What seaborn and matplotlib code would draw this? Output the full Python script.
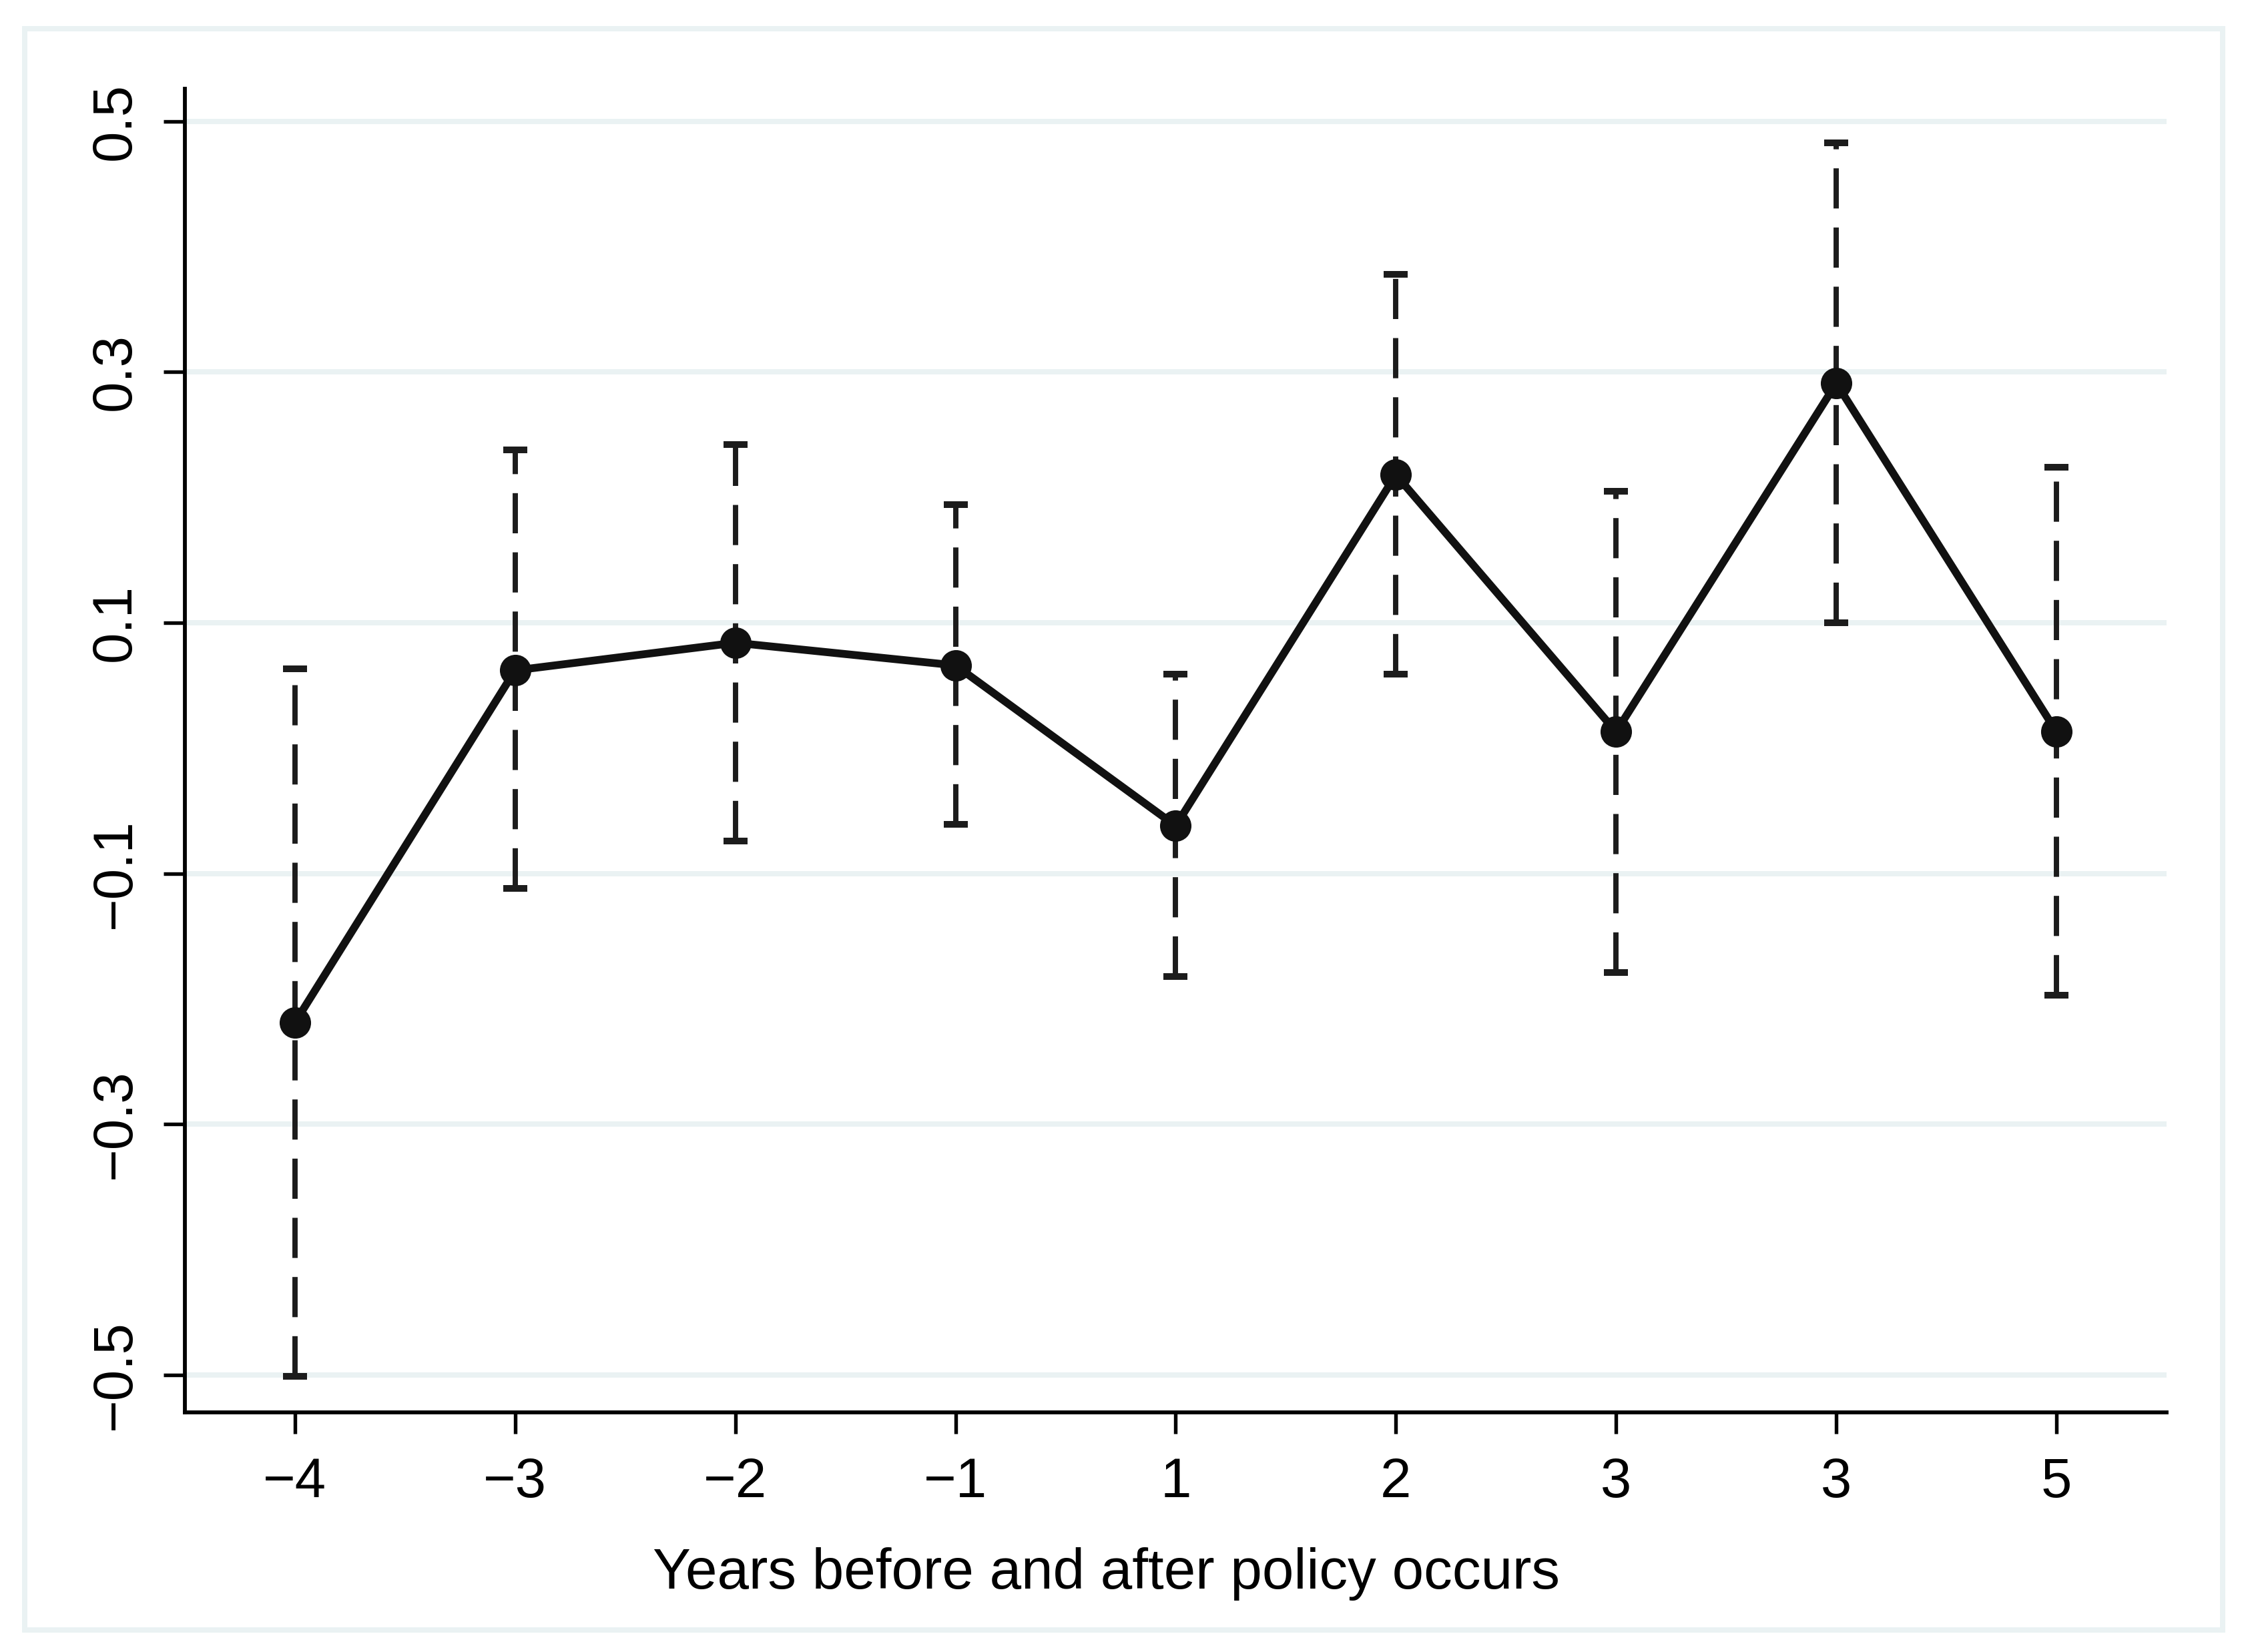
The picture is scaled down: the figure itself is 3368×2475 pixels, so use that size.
import numpy as np
import pandas as pd
import matplotlib
matplotlib.use("Agg")
import matplotlib.pyplot as plt
from matplotlib.patches import Rectangle
import seaborn as sns

# values
labels = ["\u22124", "\u22123", "\u22122", "\u22121", "1", "2", "3", "3", "5"]
coef = [-0.219, 0.062, 0.084, 0.066, -0.062, 0.218, 0.013, 0.291, 0.013]
ci_low = [-0.501, -0.112, -0.074, -0.061, -0.182, 0.059, -0.179, 0.100, -0.197]
ci_high = [0.063, 0.238, 0.242, 0.194, 0.059, 0.378, 0.205, 0.483, 0.224]
yticks = [-0.5, -0.3, -0.1, 0.1, 0.3, 0.5]

df = pd.DataFrame({"pos": np.arange(len(labels)), "coef": coef,
                   "lo": ci_low, "hi": ci_high})

sns.set_style("white")
plt.rcParams["font.family"] = ["Liberation Sans", "DejaVu Sans"]
plt.rcParams["text.color"] = "black"
plt.rcParams["axes.labelcolor"] = "black"
plt.rcParams["xtick.color"] = "black"
plt.rcParams["ytick.color"] = "black"

grid_col = "#EAF2F3"
fig = plt.figure(figsize=(3368 / 300, 2475 / 300), dpi=300)
ax = fig.add_axes([0.0822, 0.145, 0.9638 - 0.0822, 0.9463 - 0.145])

# outer light frame, Stata style
fig.patches.append(Rectangle((37 / 3368, 1 - 2442 / 2475), (3330 - 37) / 3368,
                             (2442 - 43) / 2475, transform=fig.transFigure,
                             fill=False, edgecolor=grid_col, linewidth=1.9))

for t in yticks:
    ax.axhline(t, color=grid_col, linewidth=1.9, zorder=0)

eb = ax.errorbar(df["pos"], df["coef"],
                 yerr=[df["coef"] - df["lo"], df["hi"] - df["coef"]],
                 fmt="none", ecolor="#1c1c1c", elinewidth=1.9,
                 capsize=4.4, capthick=2.4, zorder=2)
eb[2][0].set_linestyle((0, (7.6, 3.6)))

sns.lineplot(data=df, x="pos", y="coef", ax=ax, color="#111111",
             linewidth=2.8, marker="o", markersize=11.3,
             markeredgewidth=0, zorder=3)

ax.set_xlim(-0.5, 8.5)
ax.set_ylim(-0.53, 0.526)
ax.set_xticks(df["pos"])
ax.set_xticklabels(labels)
ax.set_yticks(yticks)
ax.set_yticklabels([f"{t:.1f}".replace("-", "\u2212") for t in yticks],
                   rotation=90, va="center")
ax.tick_params(axis="both", direction="out", length=7.7, width=1.3,
               color="black", labelcolor="black", labelsize=20, pad=8,
               left=True, bottom=True)

for side in ["top", "right"]:
    ax.spines[side].set_visible(False)
for side in ["left", "bottom"]:
    ax.spines[side].set_color("black")
    ax.spines[side].set_linewidth(1.4)

ax.set_ylabel("")
ax.set_xlabel("Years before and after policy occurs", fontsize=20.5,
              color="black")
ax.xaxis.set_label_coords(0.465, -0.122)
ax.xaxis.label.set_va("center")

fig.savefig("out.png", dpi=300, facecolor="white")
